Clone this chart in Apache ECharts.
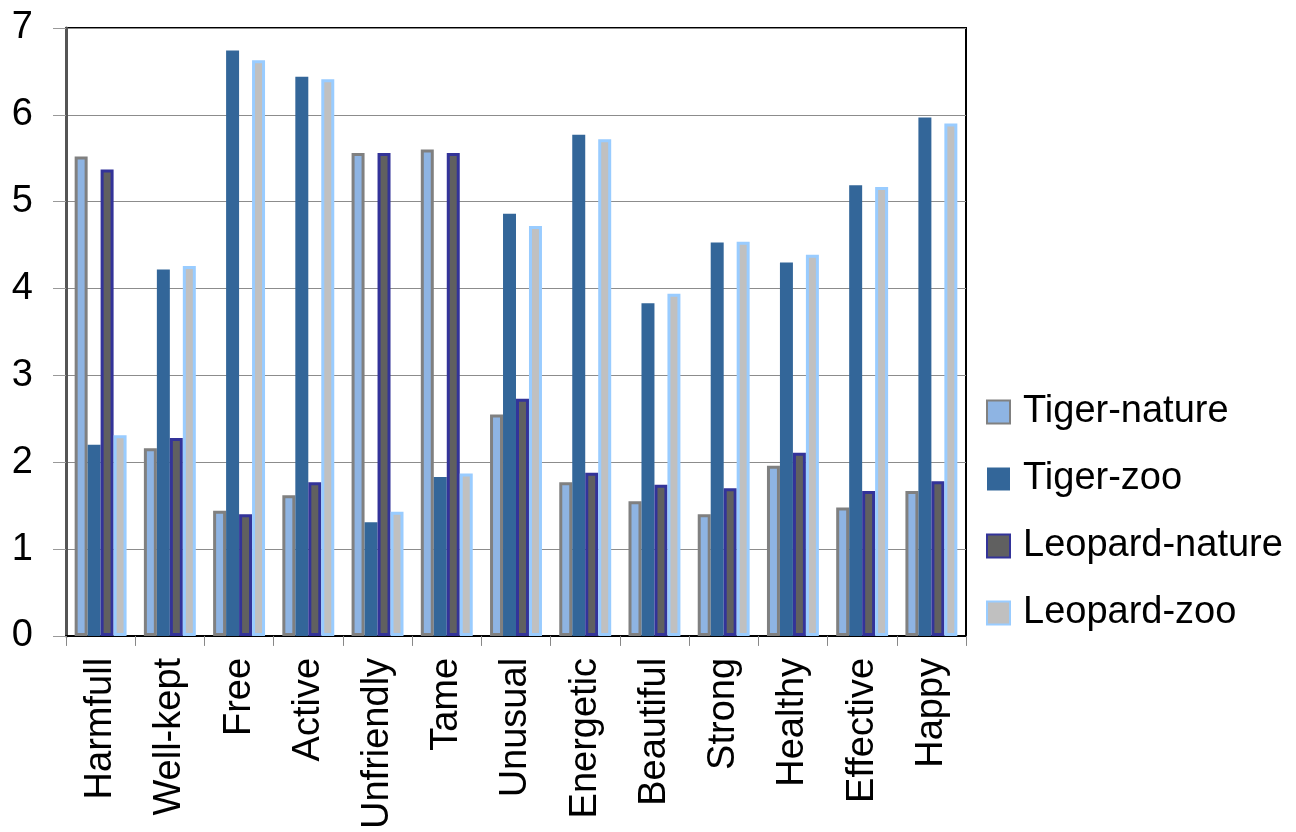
<!DOCTYPE html>
<html>
<head>
<meta charset="utf-8">
<script src="https://cdn.jsdelivr.net/npm/echarts@6/dist/echarts.min.js"></script>
<style>
  html, body { margin: 0; padding: 0; background: #ffffff; }
  #chart { width: 1296px; height: 832px; }
</style>
</head>
<body>
<div id="chart"></div>
<script>
// Attribute ratings per descriptor, for tigers and leopards seen in nature and in the zoo
const categories = ['Harmfull', 'Well-kept', 'Free', 'Active', 'Unfriendly', 'Tame', 'Unusual',
  'Energetic', 'Beautiful', 'Strong', 'Healthy', 'Effective', 'Happy'];

const tigerNature   = [5.52, 2.16, 1.44, 1.62, 5.56, 5.60, 2.55, 1.77, 1.55, 1.40, 1.96, 1.48, 1.67];
const tigerZoo      = [2.20, 4.22, 6.74, 6.44, 1.31, 1.83, 4.86, 5.77, 3.83, 4.53, 4.30, 5.19, 5.97];
const leopardNature = [5.37, 2.28, 1.40, 1.77, 5.56, 5.56, 2.73, 1.88, 1.74, 1.70, 2.11, 1.67, 1.78];
const leopardZoo    = [2.31, 4.26, 6.63, 6.41, 1.43, 1.87, 4.72, 5.72, 3.94, 4.54, 4.39, 5.17, 5.90];

const yTicks = [0, 1, 2, 3, 4, 5, 6, 7];

const FONT = '"Liberation Sans", Arial, sans-serif';

const chart = echarts.init(document.getElementById('chart'));

function barSeries(name, data, fill, border, borderWidth) {
  return {
    name: name,
    type: 'bar',
    data: data,
    barGap: '0%',
    barCategoryGap: '25%',
    itemStyle: { color: fill, borderColor: border, borderWidth: borderWidth },
    emphasis: { disabled: true }
  };
}

chart.setOption({
  animation: false,
  backgroundColor: '#ffffff',
  textStyle: { fontFamily: FONT },
  grid: {
    left: 66, right: 330, top: 28, bottom: 194,
    show: true, borderColor: '#000000', borderWidth: 2, backgroundColor: 'transparent'
  },
  legend: {
    orient: 'vertical',
    left: 981,
    top: 387,
    itemWidth: 23,
    itemHeight: 23,
    itemGap: 27,
    icon: 'rect',
    textStyle: { fontFamily: FONT, fontSize: 38, color: '#000000', lineHeight: 40, padding: [0, 0, 0, 8] },
    data: ['Tiger-nature', 'Tiger-zoo', 'Leopard-nature', 'Leopard-zoo']
  },
  xAxis: {
    type: 'category',
    data: categories,
    boundaryGap: true,
    axisLine: { lineStyle: { color: '#000000', width: 2 } },
    axisTick: { show: true, length: 10, lineStyle: { color: '#888888', width: 1 } },
    axisLabel: {
      rotate: 90,
      margin: 22,
      fontSize: 38,
      color: '#000000',
      fontFamily: FONT,
      interval: 0
    }
  },
  yAxis: {
    type: 'value',
    min: yTicks[0],
    max: yTicks[yTicks.length - 1],
    interval: 1,
    axisLine: { show: true, lineStyle: { color: '#555555', width: 3 } },
    axisTick: { show: true, length: 13, lineStyle: { color: '#999999', width: 1 } },
    splitLine: { show: true, lineStyle: { color: '#8c8c8c', width: 1 } },
    axisLabel: {
      margin: 33,
      fontSize: 38,
      color: '#000000',
      fontFamily: FONT,
      formatter: function (v) { return yTicks.indexOf(v) >= 0 ? String(v) : ''; }
    }
  },
  series: [
    barSeries('Tiger-nature', tigerNature, '#8EB4E3', '#808080', 3),
    barSeries('Tiger-zoo', tigerZoo, '#336699', '#336699', 0),
    barSeries('Leopard-nature', leopardNature, '#606060', '#333399', 3),
    barSeries('Leopard-zoo', leopardZoo, '#C0C0C0', '#99CCFF', 3)
  ]
});
</script>
</body>
</html>
